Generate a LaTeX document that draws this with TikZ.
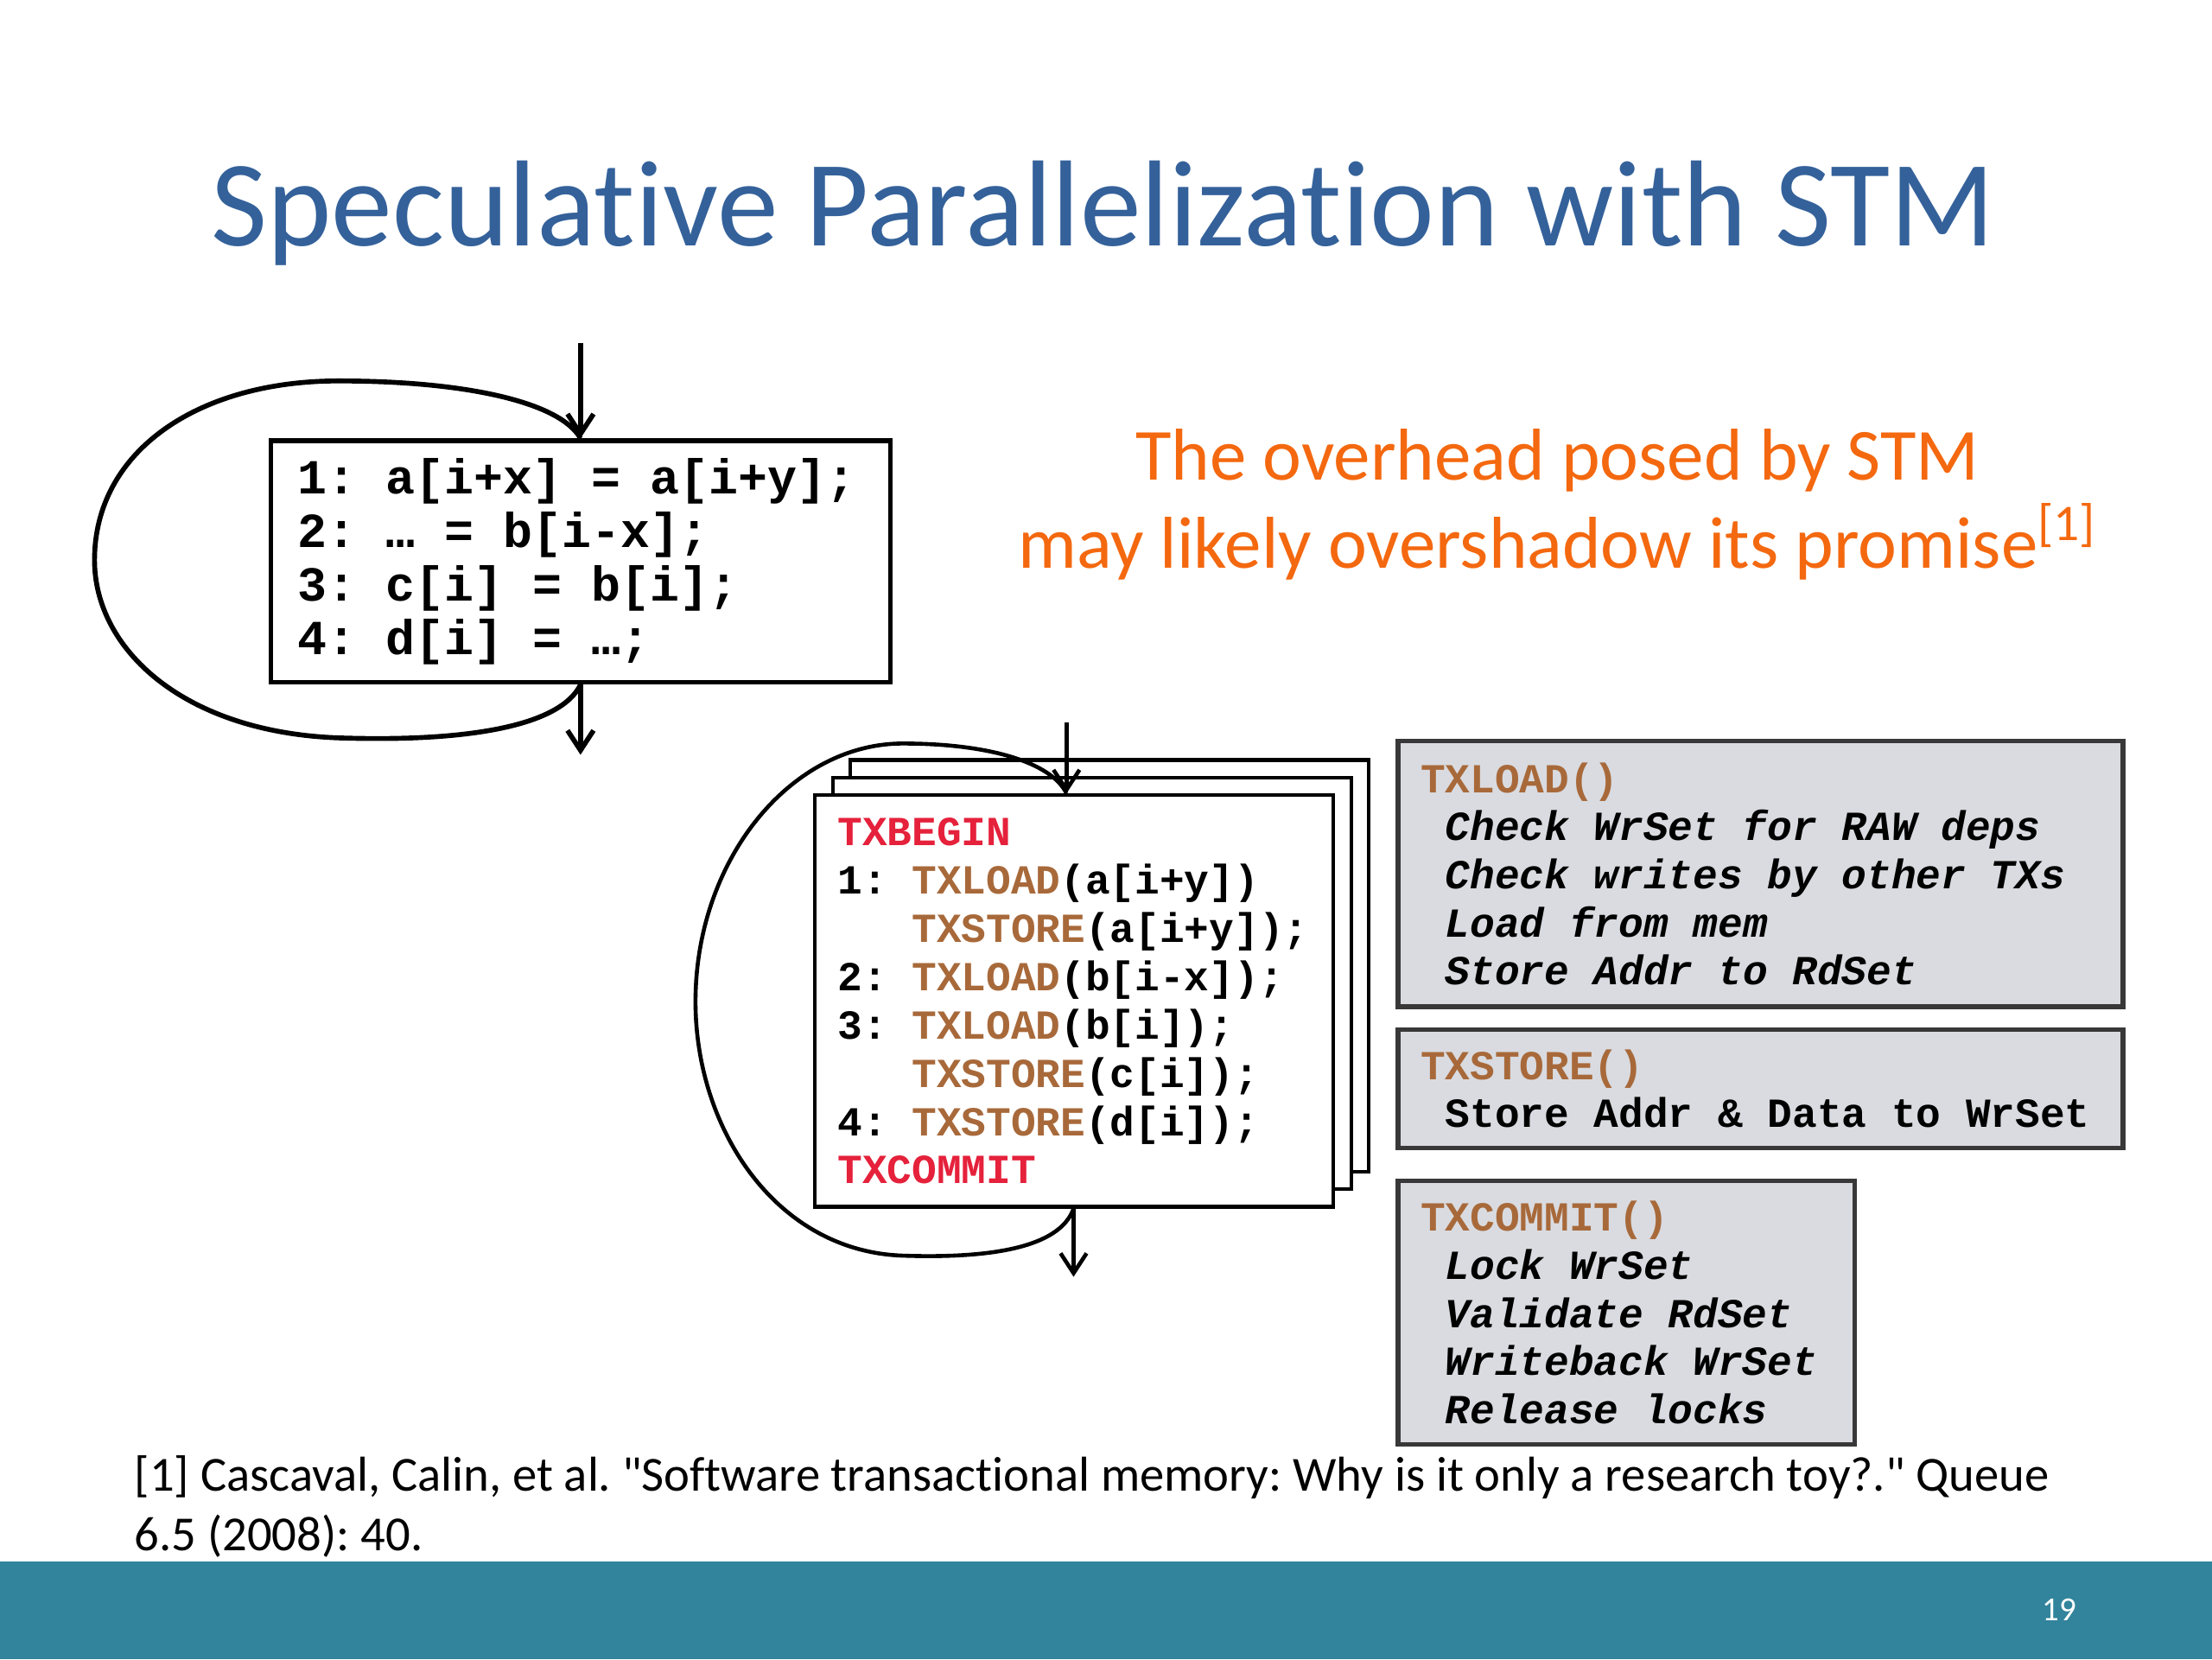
\documentclass[tikz,border=0pt]{standalone}
\usepackage{fontspec}
\setmainfont{Carlito}[Ligatures={TeXOff, CommonOff}]
\newfontfamily\codefont{Liberation Mono}
\usetikzlibrary{arrows.meta, positioning}
\usepackage{xcolor}
\definecolor{titleblue}{HTML}{34619A}
\definecolor{noteorange}{HTML}{F4680F}
\definecolor{barteal}{HTML}{31849B}
\definecolor{boxgray}{HTML}{D9DBE0}
\definecolor{kwbrown}{HTML}{A8693A}
\definecolor{kwred}{HTML}{E5213B}
\newcommand{\txkw}[1]{\textcolor{kwbrown}{#1}}
\newcommand{\txmark}[1]{\textcolor{kwred}{#1}}
\newcommand{\onech}{\hspace*{0.6em}}
\newcommand{\threech}{\hspace*{1.8em}}
\frenchspacing

\begin{document}
\begin{tikzpicture}[x=0.016199cm, y=-0.016199cm,
    mono/.style={execute at begin node={\spaceskip=0.6em\xspaceskip=0.6em\relax}},
    codebox/.style={mono, draw, line width=1.5pt, fill=white, align=left, inner xsep=8.7pt, inner ysep=0pt,
                    font=\codefont\bfseries\fontsize{16}{17.45}\selectfont},
    txbox/.style={mono, draw, line width=1.2pt, fill=white, align=left, inner xsep=7.35pt, inner ysep=0pt,
                  minimum width=169.4pt, minimum height=134.5pt, text width=154.7pt,
                  font=\codefont\bfseries\fontsize{13.5}{15.8}\selectfont},
    funcbox/.style={mono, draw=black!78, line width=1.5pt, fill=boxgray, align=left, inner xsep=7.35pt, inner ysep=0pt,
                    font=\codefont\bfseries\fontsize{13.5}{15.73}\selectfont},
    arr/.style={-{Straight Barb[length=6.5pt, width=8.5pt]}, line width=1.6pt},
    backedge/.style={line width=1.6pt},
    slide/.style={inner sep=0pt}
  ]
  % page
  \fill[white] (0,0) rectangle (1568,1176);
  \fill[barteal] (0,1107) rectangle (1568,1176);
  \node[slide, text=white, font=\fontsize{11}{13}\selectfont] (pagenum) at (1460,1141) {19};

  \node[slide, font=\fontsize{40}{48}\selectfont, text=titleblue, anchor=base] (title) at (782,174)
    {Speculative Parallelization with STM};

  \node[slide, font=\fontsize{24}{29}\selectfont, text=noteorange, anchor=base] (note1) at (1104,340)
    {The overhead posed by STM};
  \node[slide, font=\fontsize{24}{29}\selectfont, text=noteorange, anchor=base] (note2) at (1104,403)
    {may likely overshadow its promise\textsuperscript{[1]}};

  \node[slide, font=\fontsize{16}{19.2}\selectfont, anchor=base west] (cite1) at (95,1057)
    {[1] Cascaval, Calin, et al. "Software transactional memory: Why is it only a research toy?." Queue};
  \node[slide, font=\fontsize{16}{19.2}\selectfont, anchor=base west] (cite2) at (95,1099)
    {6.5 (2008): 40.};

  % original loop
  \node[codebox, minimum width=202.5pt, minimum height=79pt, text width=185pt] (lcode) at (411.5,398)
    {1: a[i+x] = a[i+y];\\2: … = b[i-x];\\3: c[i] = b[i];\\4: d[i] = …;};

  \coordinate (lin) at (411.5,243);
  \coordinate (lout) at (411.5,535);
  \draw[arr] (lin) -- (lcode.north);
  \draw[arr] (lcode.south) -- (lout);
  \draw[backedge] (lcode.south) .. controls (397,515) and (330,526) .. (240,523)
    .. controls (130,519) and (67,460) .. (67,397)
    .. controls (67,320) and (140,270) .. (240,270)
    .. controls (330,270) and (397,285) .. (lcode.north);

  % transactional version
  \node[txbox] (txback) at (786.5,684.5) {};
  \node[txbox] (txmid) at (774,697) {};
  \node[txbox] (txbody) at (761.5,709.5)
    {\txmark{TXBEGIN}\\
     1: \txkw{TXLOAD}(a[i+y])\\
     \threech\txkw{TXSTORE}(a[i+y]);\\
     2: \txkw{TXLOAD}(b[i-x]);\\
     3: \txkw{TXLOAD}(b[i]);\\
     \threech\txkw{TXSTORE}(c[i]);\\
     4: \txkw{TXSTORE}(d[i]);\\
     \txmark{TXCOMMIT}};

  \coordinate (tin) at (756,512);
  \coordinate (tout) at (761,905);
  \draw[arr, line width=1.3pt] (tin) -- (tin |- txbody.north);
  \draw[arr, line width=1.3pt] (tout |- txbody.south) -- (tout);
  \draw[backedge, line width=1.3pt] (tout |- txbody.south) .. controls (751,885) and (700,892) .. (640,890)
    .. controls (550,887) and (493,800) .. (493,710)
    .. controls (493,610) and (560,527) .. (640,527)
    .. controls (700,527) and (745,540) .. (tin |- txbody.north);

  % runtime calls
  \node[funcbox, minimum width=236.9pt, minimum height=86.8pt, text width=222.2pt] (loadbox) at (1248,619.5)
    {\txkw{TXLOAD()}\\
     \itshape\onech Check WrSet for RAW deps\\
     \itshape\onech Check writes by other TXs\\
     \itshape\onech Load from mem\\
     \itshape\onech Store Addr to RdSet};
  \node[funcbox, minimum width=236.9pt, minimum height=38.6pt, text width=222.2pt, below=5.97pt of loadbox] (storebox)
    {\txkw{TXSTORE()}\\
     \onech Store Addr \& Data to WrSet};
  \node[funcbox, minimum width=149.2pt, minimum height=86.3pt, text width=134.5pt,
        below=9.2pt of storebox.south west, anchor=north west] (commitbox)
    {\txkw{TXCOMMIT()}\\
     \itshape\onech Lock WrSet\\
     \itshape\onech Validate RdSet\\
     \itshape\onech Writeback WrSet\\
     \itshape\onech Release locks};
\end{tikzpicture}
\end{document}
